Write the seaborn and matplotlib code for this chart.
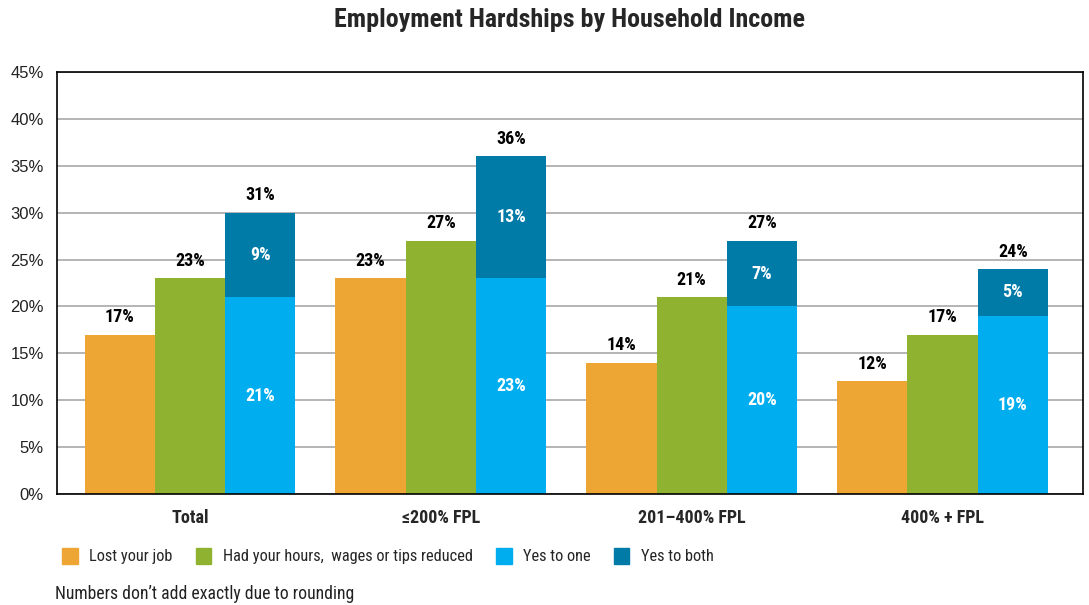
import matplotlib
matplotlib.use("Agg")
import matplotlib.pyplot as plt
from matplotlib.patches import Patch
from matplotlib.ticker import MultipleLocator, FuncFormatter
import seaborn as sns
import pandas as pd

# Data (percent of respondents)
categories = ["Total", "≤200% FPL", "201–400% FPL", "400% + FPL"]
lost_job = [17, 23, 14, 12]
hours_reduced = [23, 27, 21, 17]
yes_to_one = [21, 23, 20, 19]
yes_to_both = [9, 13, 7, 5]
either_total = [31, 36, 27, 24]

series_names = ["Lost your job", "Had your hours,  wages or tips reduced",
                "Yes to one", "Yes to both"]
colors = {"lost": "#EDA633", "hours": "#8FB331", "one": "#00AEEF", "both": "#007BA8"}

sns.set_theme(style="white")
narrow = ["Roboto Condensed", "DejaVu Sans"]
regular = ["Liberation Sans", "DejaVu Sans"]
plt.rcParams["font.family"] = regular

fig = plt.figure(figsize=(10.89, 6.05), dpi=100)
ax = fig.add_axes([57 / 1089, 1 - 494 / 605, (1083 - 57) / 1089, (494 - 72) / 605])

hue_order = ["lost", "hours", "stack"]
stack_totals = [a + b for a, b in zip(yes_to_one, yes_to_both)]
rows = []
for i, c in enumerate(categories):
    rows.append((c, "lost", lost_job[i]))
    rows.append((c, "hours", hours_reduced[i]))
    rows.append((c, "stack", stack_totals[i]))
df = pd.DataFrame(rows, columns=["group", "series", "value"])

# Full height of the combined column (dark blue), then the "yes to one" part over it
sns.barplot(data=df, x="group", y="value", hue="series", hue_order=hue_order,
            order=categories,
            palette={"lost": colors["lost"], "hours": colors["hours"], "stack": colors["both"]},
            width=0.84, dodge=True, saturation=1, errorbar=None, legend=False, ax=ax)
c_lost, c_hours, c_stack = ax.containers[:3]
n_before = len(ax.containers)

df_one = pd.DataFrame({"group": categories, "series": "stack", "value": yes_to_one})
sns.barplot(data=df_one, x="group", y="value", hue="series", hue_order=hue_order,
            order=categories,
            palette={"lost": colors["lost"], "hours": colors["hours"], "stack": colors["one"]},
            width=0.84, dodge=True, saturation=1, errorbar=None, legend=False, ax=ax)
new_conts = [c for c in ax.containers[n_before:]
             if len(c.patches) == len(categories) and all(p is not None for p in c.patches)]
c_one = new_conts[-1]

for cont in [c_lost, c_hours, c_stack, c_one]:
    for p in cont.patches:
        p.set_edgecolor("none")
        p.set_linewidth(0)

lab_kw = dict(fontsize=13, fontweight="bold", family=narrow)
ax.bar_label(c_lost, labels=[f"{v}%" for v in lost_job], padding=6, color="black", **lab_kw)
ax.bar_label(c_hours, labels=[f"{v}%" for v in hours_reduced], padding=6, color="black", **lab_kw)
ax.bar_label(c_stack, labels=[f"{v}%" for v in either_total], padding=6, color="black", **lab_kw)
ax.bar_label(c_one, labels=[f"{v}%" for v in yes_to_one], label_type="center",
             color="white", **lab_kw)
for p, one, both in zip(c_stack.patches, yes_to_one, yes_to_both):
    ax.text(p.get_x() + p.get_width() / 2, one + both / 2, f"{both}%",
            ha="center", va="center", color="white", **lab_kw)

ax.set_ylim(0, 45)
ax.set_xlim(-0.53, 3.56)
ax.yaxis.set_major_locator(MultipleLocator(5))
ax.yaxis.set_major_formatter(FuncFormatter(lambda v, _: f"{v:.0f}%"))
ax.grid(axis="y", color="#A8A8A8", linewidth=1.2)
ax.set_axisbelow(True)
for s in ax.spines.values():
    s.set_visible(True)
    s.set_color("black")
    s.set_linewidth(1.2)
ax.set_xlabel("")
ax.set_ylabel("")
ax.tick_params(axis="y", length=0, pad=9.5, labelsize=12, labelcolor="#222222")
ax.tick_params(axis="x", length=0, pad=11)
for t in ax.get_xticklabels():
    t.set_fontweight("bold")
    t.set_family(narrow)
    t.set_fontsize(13)

fig.suptitle("Employment Hardships by Household Income", x=570 / 1089, y=1 - 19.5 / 605,
             va="center", fontsize=18.7, fontweight="bold", family=narrow)

handles = [Patch(color=colors[k]) for k in ["lost", "hours", "one", "both"]]
fig.legend(handles, series_names, loc="center left", bbox_to_anchor=(51 / 1089, 1 - 556 / 605),
           ncol=4, frameon=False, handlelength=0.92, handleheight=1.1, handletextpad=0.7,
           columnspacing=1.45, borderpad=0.2, prop={"family": narrow, "size": 11.8})

fig.text(55 / 1089, 1 - 594 / 605, "Numbers don’t add exactly due to rounding",
         ha="left", va="center", fontsize=12.7, family=narrow, color="#222222")

fig.savefig("out.png", dpi=100, facecolor="white")
